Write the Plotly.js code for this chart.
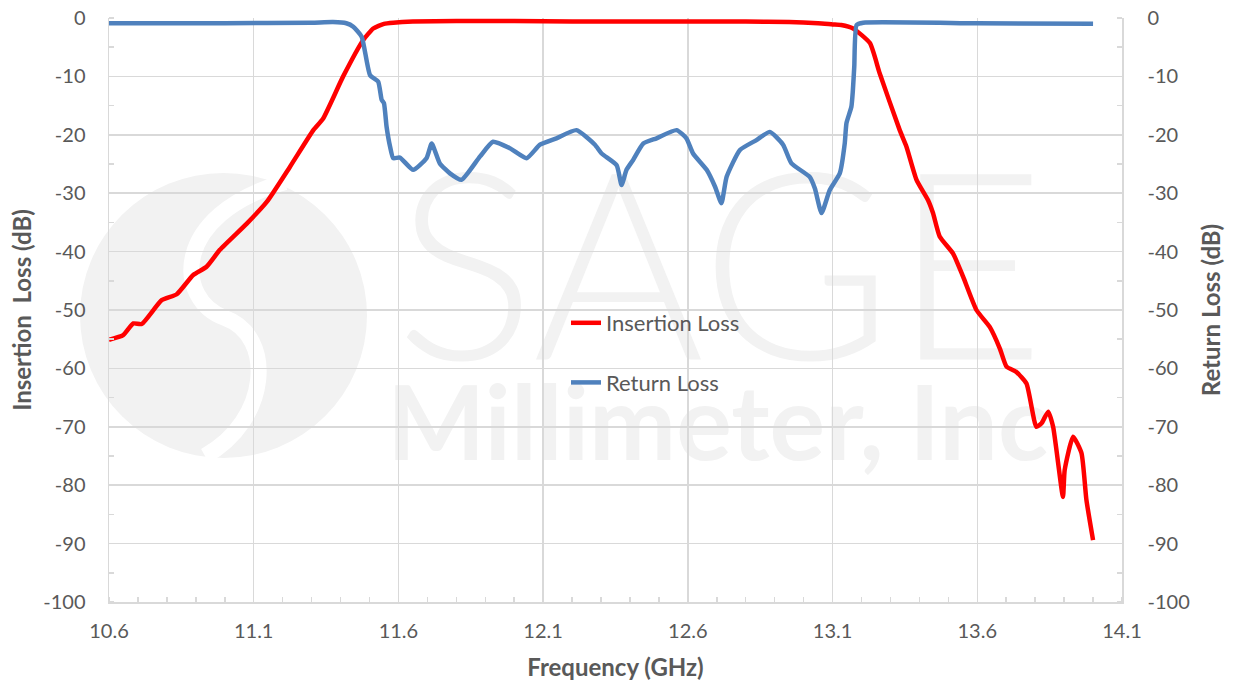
<!DOCTYPE html>
<html>
<head>
<meta charset="utf-8">
<script src="https://cdn.plot.ly/plotly-3.0.1.min.js"></script>
<style>html,body{margin:0;padding:0;background:#fff;}#chart{width:1233px;height:686px;}</style>
</head>
<body>
<div id="chart"></div>
<script>
// Insertion Loss (red)
const ilFreq = [10.60,10.649,10.684,10.713,10.782,10.834,10.891,10.937,10.983,11.076,11.145,11.225,11.306,11.340,11.409,11.478,11.513,11.55,11.582,11.65,11.8,12.0,12.2,12.4,12.6,12.8,12.95,13.05,13.10,13.13,13.171,13.229,13.263,13.332,13.355,13.390,13.430,13.447,13.470,13.516,13.551,13.597,13.643,13.678,13.701,13.735,13.770,13.804,13.822,13.845,13.862,13.896,13.902,13.931,13.960,13.977,14.000];
const ilVals = [-55.1,-54.3,-52.3,-52.4,-48.3,-47.3,-44.0,-42.6,-39.7,-35.2,-31.5,-25.5,-19.2,-17.2,-10.0,-3.8,-1.8,-1.0,-0.8,-0.6,-0.5,-0.5,-0.6,-0.6,-0.6,-0.6,-0.7,-0.9,-1.1,-1.2,-1.8,-4.3,-9.5,-19.2,-22.0,-27.7,-31.2,-33.4,-37.4,-40.3,-44.3,-50.0,-52.9,-56.6,-59.7,-60.6,-62.6,-70.0,-69.4,-67.4,-70.0,-82.0,-77.4,-71.7,-74.5,-82.5,-89.4];

// Return Loss (blue)
const rlFreq = [10.60,11.0,11.3,11.374,11.42,11.444,11.473,11.502,11.530,11.542,11.550,11.559,11.571,11.582,11.605,11.651,11.697,11.715,11.743,11.778,11.818,11.882,11.927,11.985,12.043,12.089,12.146,12.215,12.279,12.302,12.354,12.371,12.388,12.411,12.446,12.492,12.561,12.595,12.618,12.665,12.694,12.716,12.734,12.780,12.837,12.883,12.929,12.958,13.021,13.039,13.062,13.090,13.125,13.142,13.148,13.165,13.170,13.175,13.183,13.206,13.6,14.000];
const rlVals = [-0.9,-0.9,-0.8,-0.7,-0.9,-1.5,-3.2,-9.8,-10.9,-14.0,-14.6,-18.6,-22.0,-24.0,-23.9,-26.0,-24.0,-21.5,-24.9,-26.6,-27.7,-23.7,-21.2,-22.3,-24.0,-21.7,-20.6,-19.2,-21.7,-23.2,-25.2,-28.6,-26.0,-24.3,-21.5,-20.6,-19.2,-20.6,-23.2,-26.0,-28.9,-31.7,-27.2,-22.6,-20.9,-19.5,-21.7,-24.9,-27.2,-29.2,-33.4,-29.5,-26.6,-21.5,-18.0,-15.2,-12.5,-8.3,-1.2,-0.8,-0.9,-1.0];

const seriesNames = ["Insertion Loss", "Return Loss"];
const xTickVals = [10.6, 11.1, 11.6, 12.1, 12.6, 13.1, 13.6, 14.1];
const xTickText = ["10.6", "11.1", "11.6", "12.1", "12.6", "13.1", "13.6", "14.1"];
const yTickVals = [0, -10, -20, -30, -40, -50, -60, -70, -80, -90, -100];
const yTickText = ["0", "-10", "-20", "-30", "-40", "-50", "-60", "-70", "-80", "-90", "-100"];

const FONT = "Lato, 'Open Sans', sans-serif";
const GRID = "#d9d9d9";
const TXT = "#595959";
const WM = "#f2f2f2";

// pixel -> paper helper for watermark decoration
const L = 109, R = 1122, T = 18, B = 602;
const px = v => (v - L) / (R - L);
const py = v => (B - v) / (B - T);

const traces = [
  {x: ilFreq, y: ilVals, name: seriesNames[0], type: "scatter", mode: "lines",
   line: {color: "#ff0000", width: 4.5, shape: "spline", smoothing: 0.5},
   legendgroup: "a", yaxis: "y"},
  {x: rlFreq, y: rlVals, name: seriesNames[1], type: "scatter", mode: "lines",
   line: {color: "#4f81bd", width: 4.5, shape: "spline", smoothing: 0.5},
   legendgroup: "b", yaxis: "y2"}
];

const sPath = `M ${px(285)} ${py(182)} C ${px(170)} ${py(215)} ${px(175)} ${py(300)} ${px(225)} ${py(318)} C ${px(275)} ${py(336)} ${px(270)} ${py(420)} ${px(205)} ${py(456)}`;

const titleFont = {family: FONT, size: 24, color: TXT, weight: "bold"};

const layout = {
  width: 1233, height: 686,
  margin: {l: L, r: 1233 - R, t: T, b: 686 - B},
  paper_bgcolor: "#fff", plot_bgcolor: "rgba(0,0,0,0)",
  font: {family: FONT, color: TXT, size: 20},
  showlegend: true,
  legend: {x: px(566), y: py(302), xanchor: "left", yanchor: "top",
           bgcolor: "rgba(0,0,0,0)", font: {family: FONT, size: 22, color: TXT},
           traceorder: "grouped", tracegroupgap: 28},
  xaxis: {range: [10.6, 14.1], tickvals: xTickVals, ticktext: xTickText,
          showgrid: true, gridcolor: GRID, gridwidth: 1.5, zeroline: false,
          showline: true, linecolor: GRID, linewidth: 1.5, ticks: "",
          ticklabelstandoff: 10,
          minor: {dtick: 0.1, tick0: 10.6, ticks: "inside", ticklen: 5, tickcolor: GRID, tickwidth: 1.5, showgrid: false},
          tickfont: {family: FONT, size: 20, color: TXT},
          title: {text: "Frequency (GHz)", font: titleFont, standoff: 18}},
  yaxis: {range: [-100, 0], tickvals: yTickVals, ticktext: yTickText, showgrid: true, gridcolor: GRID, gridwidth: 1.5,
          zeroline: false, showline: true, linecolor: GRID, linewidth: 1.5, ticks: "",
          ticklabelstandoff: 18,
          minor: {dtick: 5, tick0: 0, ticks: "inside", ticklen: 5, tickcolor: GRID, tickwidth: 1.5, showgrid: false},
          tickfont: {family: FONT, size: 20, color: TXT},
          title: {text: "Insertion\u00A0 Loss (dB)", font: titleFont, standoff: 5}},
  yaxis2: {range: [-100, 0], tickvals: yTickVals, ticktext: yTickText, overlaying: "y", side: "right", showgrid: false,
          zeroline: false, showline: true, linecolor: GRID, linewidth: 1.5, ticks: "",
          ticklabelstandoff: 20,
          minor: {dtick: 5, tick0: 0, ticks: "inside", ticklen: 5, tickcolor: GRID, tickwidth: 1.5, showgrid: false},
          tickfont: {family: FONT, size: 20, color: TXT},
          title: {text: "Return Loss (dB)", font: titleFont, standoff: 14}},
  shapes: [
    {type: "circle", xref: "paper", yref: "paper", layer: "below",
     x0: px(80), x1: px(367), y0: py(458), y1: py(173), fillcolor: WM, line: {width: 0}},
    {type: "path", xref: "paper", yref: "paper", layer: "below", path: sPath,
     line: {color: "#ffffff", width: 16}},
    {type: "rect", xref: "paper", yref: "paper", layer: "below",
     x0: px(405), x1: px(1035), y0: py(345), y1: py(165), line: {width: 0}, fillcolor: "rgba(0,0,0,0)",
     label: {text: "SAGE", textposition: "middle center",
             font: {family: "Lato, sans-serif", size: 262, color: WM, weight: 300}}},
    {type: "rect", xref: "paper", yref: "paper", layer: "below",
     x0: px(400), x1: px(1035), y0: py(458), y1: py(378), line: {width: 0}, fillcolor: "rgba(0,0,0,0)",
     label: {text: "Millimeter, Inc", textposition: "middle center",
             font: {family: "Lato, sans-serif", size: 104, color: WM, weight: "bold"}}}
  ]
};

Plotly.newPlot("chart", traces, layout, {displayModeBar: false, staticPlot: true});
</script>
</body>
</html>
